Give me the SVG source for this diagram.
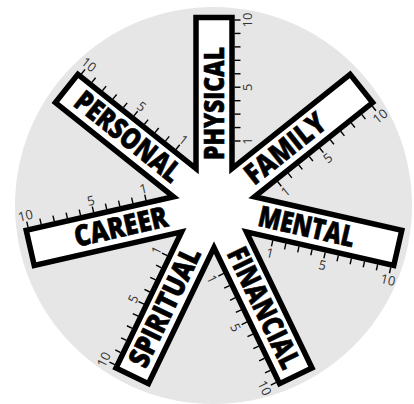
<svg xmlns="http://www.w3.org/2000/svg" xmlns:xlink="http://www.w3.org/1999/xlink" width="414" height="404" viewBox="0 0 414 404">
<style>
.lbl{font-family:"Open Sans","Liberation Sans",sans-serif;font-weight:800;font-size:29px;fill:#000;stroke:#000;stroke-width:0.6}
.num{font-family:"Open Sans","Liberation Sans",sans-serif;font-weight:400;font-size:13px;fill:#333;text-anchor:middle;dominant-baseline:central}
.tk{stroke:#000;stroke-width:1.4}
</style>
<defs>
<g id="ticks" class="tk">
<line x1="65" y1="20.5" x2="65" y2="26.5"/><line x1="78.44" y1="20.5" x2="78.44" y2="26.5"/><line x1="91.89" y1="20.5" x2="91.89" y2="26.5"/><line x1="105.33" y1="20.5" x2="105.33" y2="26.5"/><line x1="118.78" y1="20.5" x2="118.78" y2="26.5"/><line x1="132.22" y1="20.5" x2="132.22" y2="26.5"/><line x1="145.67" y1="20.5" x2="145.67" y2="26.5"/><line x1="159.11" y1="20.5" x2="159.11" y2="26.5"/><line x1="172.56" y1="20.5" x2="172.56" y2="26.5"/><line x1="186" y1="20.5" x2="186" y2="26.5"/>
</g>
</defs>
<circle cx="213.5" cy="205.5" r="198.5" fill="#e6e6e7"/>
<g id="star">
<polygon points="196,168.62 196,17.5 232,17.5 232,168.62 350.15,74.40 372.60,102.55 254.45,196.77 401.78,230.40 393.77,265.49 246.44,231.87 312.00,368.02 279.57,383.64 214,247.49 148.43,383.64 116.00,368.02 181.57,231.87 34.23,265.49 26.22,230.40 173.55,196.77 55.40,102.55 77.85,74.40" fill="#fff" stroke="#000" stroke-width="5.5" stroke-linejoin="miter" stroke-miterlimit="10"/>
</g>
<g id="physical" transform="translate(214 206) rotate(-90)">
<use href="#ticks"/>
<text class="num" x="65" y="33">1</text><text class="num" x="118.78" y="33">5</text><text class="num" x="186" y="33">10</text>
<text class="lbl" x="46" y="9.5" textLength="113" lengthAdjust="spacingAndGlyphs">PHYSICAL</text>
</g>
<g id="family" transform="translate(214 206) rotate(-38.5714)">
<use href="#ticks"/>
<text class="num" x="65" y="33">1</text><text class="num" x="118.78" y="33">5</text><text class="num" x="186" y="33">10</text>
<text class="lbl" x="44" y="9.5" textLength="95" lengthAdjust="spacingAndGlyphs">FAMILY</text>
</g>
<g id="mental" transform="translate(214 206) rotate(12.8571)">
<use href="#ticks"/>
<text class="num" x="65" y="33">1</text><text class="num" x="118.78" y="33">5</text><text class="num" x="186" y="33">10</text>
<text class="lbl" x="46" y="9.5" textLength="98" lengthAdjust="spacingAndGlyphs">MENTAL</text>
</g>
<g id="financial" transform="translate(214 206) rotate(64.2857)">
<use href="#ticks"/>
<text class="num" x="65" y="33">1</text><text class="num" x="118.78" y="33">5</text><text class="num" x="186" y="33">10</text>
<text class="lbl" x="48" y="9.5" textLength="131" lengthAdjust="spacingAndGlyphs">FINANCIAL</text>
</g>
<g id="spiritual" transform="translate(214 206) rotate(115.7143)">
<use href="#ticks"/>
<g transform="rotate(180)">
<text class="num" x="-65" y="-33">1</text><text class="num" x="-118.78" y="-33">5</text><text class="num" x="-186" y="-33">10</text>
<text class="lbl" x="-177" y="9.5" textLength="129" lengthAdjust="spacingAndGlyphs">SPIRITUAL</text>
</g>
</g>
<g id="career" transform="translate(214 206) rotate(167.1429)">
<use href="#ticks"/>
<g transform="rotate(180)">
<text class="num" x="-65" y="-33">1</text><text class="num" x="-118.78" y="-33">5</text><text class="num" x="-186" y="-33">10</text>
<text class="lbl" x="-143" y="9.5" textLength="95" lengthAdjust="spacingAndGlyphs">CAREER</text>
</g>
</g>
<g id="personal" transform="translate(214 206) rotate(218.5714)">
<use href="#ticks"/>
<g transform="rotate(180)">
<text class="num" x="-65" y="-33">1</text><text class="num" x="-118.78" y="-33">5</text><text class="num" x="-186" y="-33">10</text>
<text class="lbl" x="-174" y="9.5" textLength="127" lengthAdjust="spacingAndGlyphs">PERSONAL</text>
</g>
</g>
</svg>
